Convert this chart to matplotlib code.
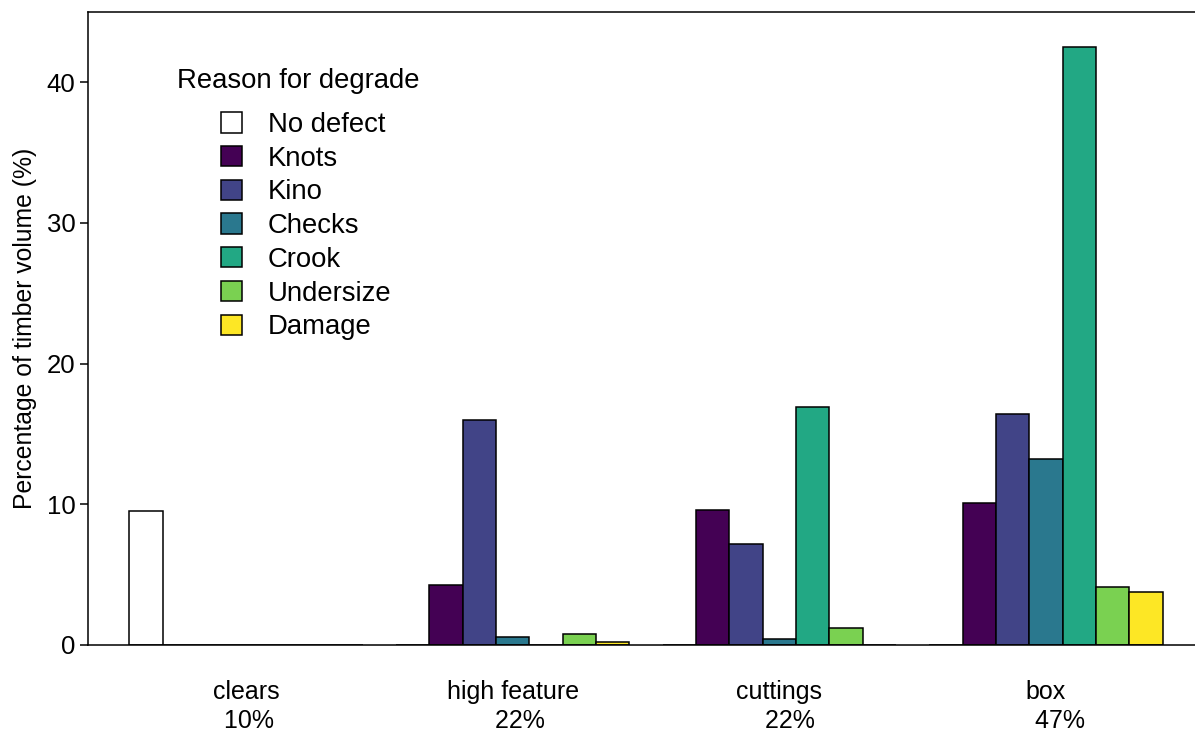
import matplotlib
matplotlib.use("Agg")
import matplotlib.pyplot as plt
from matplotlib.patches import Patch
import numpy as np

plt.rcParams['font.family'] = ['Liberation Sans', 'DejaVu Sans']

grades = ["clears", "high feature", "cuttings", "box"]
grade_share = ["10%", "22%", "22%", "47%"]
reasons = ["No defect", "Knots", "Kino", "Checks", "Crook", "Undersize", "Damage"]
colors = ["#FFFFFF", "#440154", "#414487", "#2A788E", "#22A884", "#7AD151", "#FDE725"]

no_defect = [9.55, 0.0, 0.0, 0.0]
knots     = [0.0, 4.28, 9.62, 10.12]
kino      = [0.0, 15.99, 7.19, 16.45]
checks    = [0.0, 0.6, 0.45, 13.24]
crook     = [0.0, 0.0, 16.95, 42.53]
undersize = [0.0, 0.8, 1.2, 4.11]
damage    = [0.0, 0.2, 0.0, 3.74]
series = [no_defect, knots, kino, checks, crook, undersize, damage]

W, H = 1195, 734
fig = plt.figure(figsize=(W / 100, H / 100), dpi=100)
x0, x1 = -0.24, 33.24
px_per_unit = 33.33
left_px, top_px, bot_px = 88, 12, 645
right_px = left_px + (x1 - x0) * px_per_unit
ax = fig.add_axes([left_px / W, (H - bot_px) / H, (right_px - left_px) / W, (bot_px - top_px) / H])

nr = len(reasons)
lw = 1.1
for c, (vals, col) in enumerate(zip(series, colors)):
    xs = [1 + g * (nr + 1) + c + 0.5 for g in range(len(grades))]
    ax.bar(xs, vals, width=1.0, color=col, edgecolor="black", linewidth=lw, label=reasons[c])

ax.set_xlim(x0, x1)
ax.set_ylim(0, 45)
centers = [1 + g * (nr + 1) + nr / 2 for g in range(len(grades))]
labels = [f"{g}\n{' ' * (i + 1)}{s}" for i, (g, s) in enumerate(zip(grades, grade_share))]
ax.set_xticks(centers)
ax.set_xticklabels(labels, fontsize=18, linespacing=1.3)
ax.tick_params(axis="x", length=0, pad=25)
ax.set_yticks([0, 10, 20, 30, 40])
ax.tick_params(axis="y", direction="out", length=6, width=lw, labelsize=18.5, pad=3)
for s in ax.spines.values():
    s.set_linewidth(lw)
ax.set_ylabel("Percentage of timber volume (%)", fontsize=17.8, labelpad=7)

handles = [Patch(facecolor=c, edgecolor="black", linewidth=lw) for c in colors]
leg = ax.legend(handles, reasons, title="Reason for degrade", frameon=False,
                fontsize=19.8, title_fontsize=19.8, loc="upper left",
                bbox_to_anchor=(185 / W, (H - 68) / H), bbox_transform=fig.transFigure,
                handlelength=0.76, handleheight=0.76, handletextpad=0.95,
                labelspacing=0.28, borderaxespad=0, borderpad=0)
leg._legend_box.sep = 13
leg.get_title().set_x(-8)

fig.savefig("out.png", dpi=100)
